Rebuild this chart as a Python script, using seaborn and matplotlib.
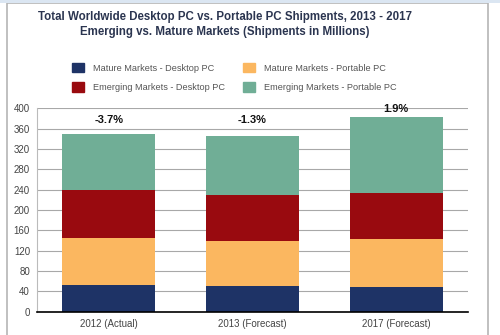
import matplotlib
matplotlib.use("Agg")
import matplotlib.pyplot as plt
import matplotlib.patches as mpatches
import seaborn as sns
import pandas as pd
import numpy as np

categories = ["2012 (Actual)", "2013 (Forecast)", "2017 (Forecast)"]
mature_desktop = [53, 50, 48]
mature_portable = [91, 89, 94]
emerging_desktop = [95, 91, 92]
emerging_portable = [111, 116, 148]
growth_labels = ["-3.7%", "-1.3%", "1.9%"]
growth_label_y = [377, 377, 399]

series_names = ["Mature Markets - Desktop PC", "Mature Markets - Portable PC",
                "Emerging Markets - Desktop PC", "Emerging Markets - Portable PC"]
series_values = [mature_desktop, mature_portable, emerging_desktop, emerging_portable]
colors = ["#1e3366", "#fbb760", "#990a0f", "#70ae96"]

sns.set_theme(style="white")
plt.rcParams['font.family'] = ['Liberation Sans', 'DejaVu Sans']

fig = plt.figure(figsize=(5, 3.35), dpi=100)
ax = fig.add_axes([0.074, 0.0696, 0.862, 0.607])

cum = np.cumsum(np.array(series_values), axis=0)
df = pd.DataFrame({"category": categories})
for i in range(len(series_names) - 1, -1, -1):
    df["v"] = cum[i]
    sns.barplot(data=df, x="category", y="v", color=colors[i], saturation=1,
                width=0.646, errorbar=None, ax=ax, zorder=3, linewidth=0)

ax.set_ylim(0, 400)
ax.set_xlim(-0.5, 2.5)
ax.set_yticks(np.arange(0, 401, 40))
ax.yaxis.grid(True, color="#a8a8a8", linewidth=0.8, zorder=0)
ax.set_axisbelow(True)
ax.set_xlabel("")
ax.set_ylabel("")
for s in ["top", "right"]:
    ax.spines[s].set_visible(False)
ax.spines["left"].set_color("#bbbbbb")
ax.spines["left"].set_linewidth(0.8)
ax.spines["bottom"].set_color("#000000")
ax.spines["bottom"].set_linewidth(1.2)
ax.spines["bottom"].set_zorder(5)
ax.tick_params(axis="y", labelsize=7, colors="#444444", length=0, pad=5)
ax.tick_params(axis="x", labelsize=7, colors="#444444", length=0, pad=5)

for i, (lab, yv) in enumerate(zip(growth_labels, growth_label_y)):
    ax.text(i, yv, lab, ha="center", va="center", fontsize=8, fontweight="bold",
            color="#111111", zorder=6)

fig.text(0.45, 0.950, "Total Worldwide Desktop PC vs. Portable PC Shipments, 2013 - 2017",
         ha="center", va="center", fontsize=8.3, fontweight="bold", color="#2b3550")
fig.text(0.45, 0.903, "Emerging vs. Mature Markets (Shipments in Millions)",
         ha="center", va="center", fontsize=8.3, fontweight="bold", color="#2b3550")

handles = [mpatches.Patch(color=colors[k], label=series_names[k]) for k in [0, 2, 1, 3]]
fig.legend(handles=handles, ncol=2, loc="center left", bbox_to_anchor=(0.128, 0.769),
           frameon=False, fontsize=6.6, labelcolor="#555555", handlelength=1.3,
           handleheight=1.3, handletextpad=1.0, columnspacing=1.9, labelspacing=1.05)

# outer frame
fig.patches.append(mpatches.Rectangle((0.014, -0.01), 0.962, 1.0, transform=fig.transFigure,
                                      fill=False, edgecolor="#b5b5b5", linewidth=1.2))
fig.patches.append(mpatches.Rectangle((0, 0.99), 1, 0.012, transform=fig.transFigure,
                                      facecolor="#dbe6f2", edgecolor="none"))

fig.savefig("out.png", dpi=100)
